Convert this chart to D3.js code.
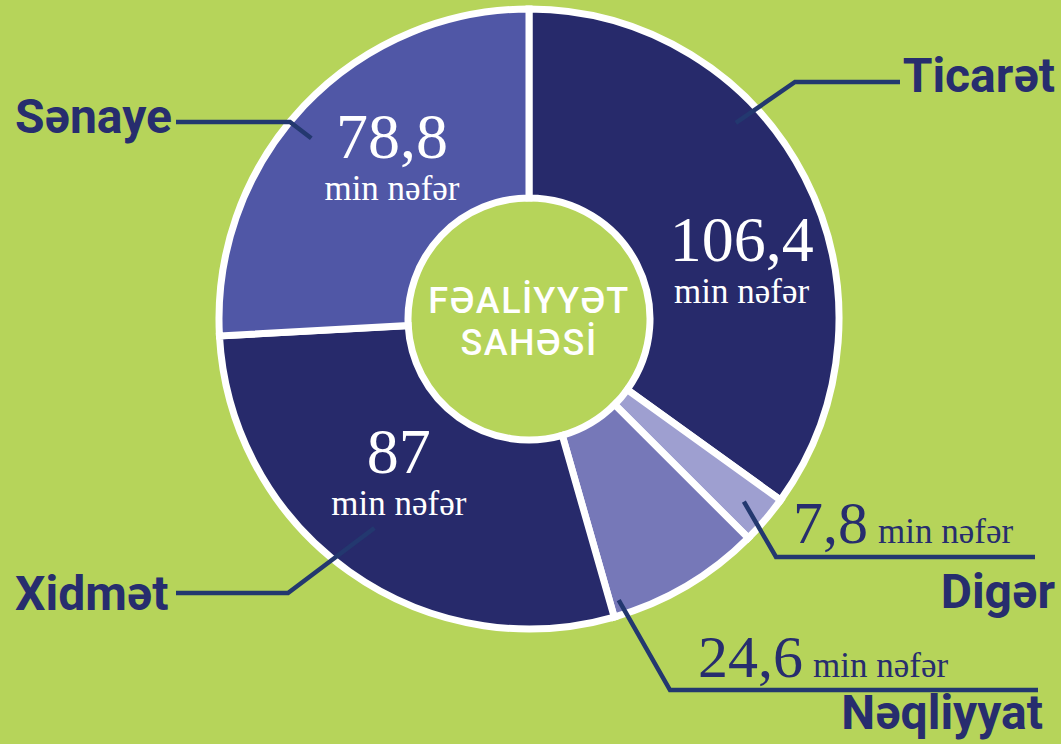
<!DOCTYPE html>
<html>
<head>
<meta charset="utf-8">
<script src="https://cdn.jsdelivr.net/npm/d3@7"></script>
<style>
  html, body { margin: 0; padding: 0; background: #b6d45a; }
  svg { display: block; }
  .name { font-family: Roboto, sans-serif; font-weight: 700; fill: #272d6e; }
  .num  { font-family: "Liberation Serif", serif; }
</style>
</head>
<body>
<svg id="chart"></svg>
<script>
// data
const categories  = ['Ticarət', 'Digər', 'Nəqliyyat', 'Xidmət', 'Sənaye'];
const values      = [106.4, 7.8, 24.6, 87, 78.8];
const valueLabels = ['106,4', '7,8', '24,6', '87', '78,8'];
const unitLabel   = 'min nəfər';
const centerTitle = ['FƏALİYYƏT', 'SAHƏSİ'];

// styling
const sliceColors = ['#272a6b', '#9e9fd0', '#7678b8', '#272a6b', '#5057a6'];
const bg       = '#b6d45a';
const ink      = '#272d6e';
const lineInk  = '#23386f';

// label layout: leader start inside the slice (t = fraction of slice angle),
// elbow, end of the horizontal part, and where the texts go
const layout = [
  { t: 0.37, r: 285, elbow: [795, 82],  end: 900, name: [1055, 92,  'end'],   inside: { t: 0.59, r: 221 } },
  { t: 0.50, r: 282, elbow: [776, 557], end: 1035, name: [1055, 608, 'end'], outside: [793, 543] },
  { t: 0.94, r: 295, elbow: [670, 690], end: 1038, name: [1043, 729, 'end'], outside: [698, 677] },
  { t: 0.51, r: 260, elbow: [288, 593], end: 176, name: [15, 610, 'start'],  inside: { t: 0.55, r: 200 } },
  { t: 0.46, r: 283, elbow: [290, 122], end: 176, name: [15, 133, 'start'],  inside: { t: 0.57, r: 213 } }
];

const W = 1061, H = 744;
const cx = 529, cy = 319;
const rOuter = 310, rInner = 121;

const svg = d3.select('#chart').attr('width', W).attr('height', H);
svg.append('rect').attr('width', W).attr('height', H).attr('fill', bg);

const g = svg.append('g').attr('transform', `translate(${cx},${cy})`);

const pie = d3.pie().sort(null).value(d => d);
const arcs = pie(values);
const arc = d3.arc().innerRadius(rInner).outerRadius(rOuter);

g.selectAll('path.slice')
  .data(arcs)
  .join('path')
  .attr('class', 'slice')
  .attr('d', arc)
  .attr('fill', (d, i) => sliceColors[i])
  .attr('stroke', '#fff')
  .attr('stroke-width', 7)
  .attr('stroke-linejoin', 'miter');

// point at a fraction of a slice's angle, at radius r (svg coords)
function slicePoint(d, t, r) {
  const a = d.startAngle + (d.endAngle - d.startAngle) * t;
  return [cx + r * Math.sin(a), cy - r * Math.cos(a)];
}

// leaders
const line = d3.line();
arcs.forEach((d, i) => {
  const L = layout[i];
  const p0 = slicePoint(d, L.t, L.r);
  svg.append('path')
    .attr('d', line([p0, L.elbow, [L.end, L.elbow[1]]]))
    .attr('fill', 'none')
    .attr('stroke', lineInk)
    .attr('stroke-width', 4.5);
});

// category names
arcs.forEach((d, i) => {
  const [x, y, anchor] = layout[i].name;
  svg.append('text')
    .attr('class', 'name')
    .attr('x', x).attr('y', y)
    .attr('text-anchor', anchor)
    .attr('font-size', 48)
    .text(categories[i]);
});

// values
arcs.forEach((d, i) => {
  const L = layout[i];
  if (L.inside) {
    const [x, y] = slicePoint(d, L.inside.t, L.inside.r);
    svg.append('text').attr('class', 'num').attr('fill', '#fff').attr('text-anchor', 'middle')
      .attr('x', x).attr('y', y + 2).attr('font-size', 64).text(valueLabels[i]);
    svg.append('text').attr('class', 'num').attr('fill', '#fff').attr('text-anchor', 'middle')
      .attr('x', x).attr('y', y + 44).attr('font-size', 35).text(unitLabel);
  } else {
    const [x, y] = L.outside;
    const txt = svg.append('text').attr('class', 'num').attr('fill', ink).attr('x', x).attr('y', y);
    txt.append('tspan').attr('font-size', 60).text(valueLabels[i]);
    txt.append('tspan').attr('font-size', 35).attr('dx', 10).text(unitLabel);
  }
});

// center title
const title = svg.append('text')
  .attr('text-anchor', 'middle')
  .attr('fill', '#fff')
  .attr('font-family', 'Roboto, sans-serif')
  .attr('font-weight', 500)
  .attr('font-size', 36)
  .attr('letter-spacing', 1.5);
centerTitle.forEach((s, k) => {
  title.append('tspan').attr('x', cx).attr('y', 313 + k * 42).text(s);
});
</script>
</body>
</html>
